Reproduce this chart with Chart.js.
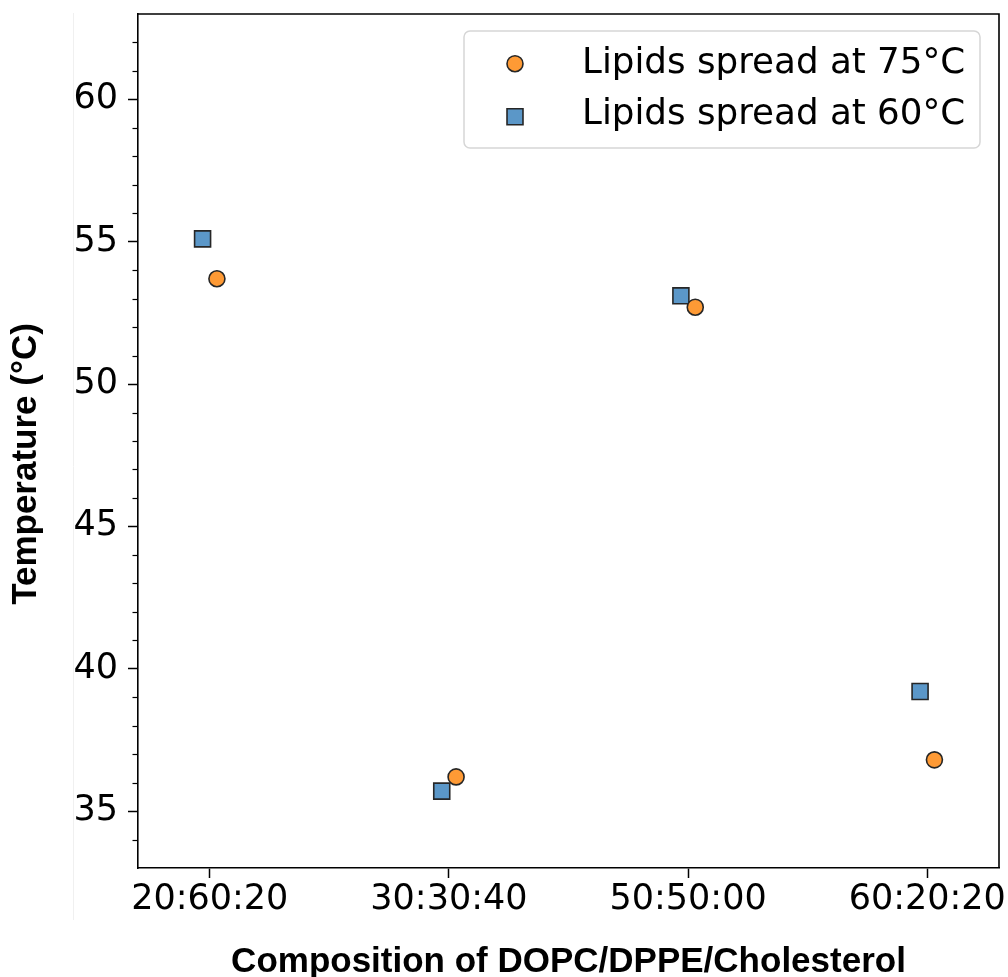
<!DOCTYPE html>
<html>
<head>
<meta charset="utf-8">
<script src="https://cdn.jsdelivr.net/npm/chart.js@4.4.0/dist/chart.umd.min.js"></script>
<style>
  html, body { margin: 0; padding: 0; background: #fff; }
</style>
</head>
<body>
<canvas id="scatterChart" width="1008" height="977"></canvas>
<script>
// data
const compositions = ['20:60:20', '30:30:40', '50:50:00', '60:20:20'];
const temps75 = [53.7, 36.2, 52.7, 36.8];
const temps60 = [55.1, 35.7, 53.1, 39.2];
const seriesLabels = ['Lipids spread at 75°C', 'Lipids spread at 60°C'];
const yMajorTicks = [35, 40, 45, 50, 55, 60];
const xShift = 0.03; // small horizontal dodge between the two series

const orange = '#fe9a35';
const blue = '#5b97c8';
const edge = '#262626';

const tickFont = { family: 'DejaVu Sans', size: 35 };
const titleFont = { family: 'Liberation Sans', size: 35, weight: 'bold' };

// the scales should not push the plot area around
function noPadding(s) {
    s.paddingLeft = 0;
    s.paddingRight = 0;
    s.paddingTop = 0;
    s.paddingBottom = 0;
}

// top/right spines, minor ticks, the y title and the framed legend
const extras = {
    id: 'extras',
    beforeDraw(chart) {
        const ctx = chart.ctx;
        ctx.save();
        ctx.strokeStyle = '#f0f0f0';
        ctx.lineWidth = 1;
        ctx.beginPath();
        ctx.moveTo(73.5, 13);
        ctx.lineTo(73.5, 920);
        ctx.stroke();
        ctx.restore();
    },
    afterDraw(chart) {
        const ctx = chart.ctx;
        const a = chart.chartArea;
        const y = chart.scales.y;
        ctx.save();
        ctx.strokeStyle = '#000';
        ctx.lineWidth = 1.6;
        ctx.beginPath();
        ctx.moveTo(a.left, a.top);
        ctx.lineTo(a.right, a.top);
        ctx.lineTo(a.right, a.bottom);
        ctx.stroke();

        // minor ticks every degree
        ctx.lineWidth = 1.2;
        for (let v = Math.ceil(y.min); v <= Math.floor(y.max); v++) {
            if (yMajorTicks.includes(v) || v === y.min || v === y.max) continue;
            const py = Math.round(y.getPixelForValue(v)) + 0.5;
            ctx.beginPath();
            ctx.moveTo(a.left - 5.5, py);
            ctx.lineTo(a.left, py);
            ctx.stroke();
        }

        // y axis title
        ctx.fillStyle = '#000';
        ctx.font = 'bold 35px "Liberation Sans"';
        ctx.textAlign = 'center';
        ctx.textBaseline = 'middle';
        ctx.translate(26, 464);
        ctx.rotate(-Math.PI / 2);
        ctx.fillText('Temperature (°C)', 0, 0);
        ctx.restore();

        // legend box
        ctx.save();
        const bx = 464, by = 31, bw = 516, bh = 117, r = 6;
        ctx.beginPath();
        ctx.moveTo(bx + r, by);
        ctx.arcTo(bx + bw, by, bx + bw, by + bh, r);
        ctx.arcTo(bx + bw, by + bh, bx, by + bh, r);
        ctx.arcTo(bx, by + bh, bx, by, r);
        ctx.arcTo(bx, by, bx + bw, by, r);
        ctx.closePath();
        ctx.fillStyle = 'rgba(255,255,255,0.8)';
        ctx.fill();
        ctx.strokeStyle = '#d6d6d6';
        ctx.lineWidth = 1.5;
        ctx.stroke();

        const rows = [63.7, 116.7];
        const baselines = [72.7, 124];
        chart.data.datasets.forEach((ds, i) => {
            ctx.fillStyle = ds.backgroundColor;
            ctx.strokeStyle = ds.borderColor;
            ctx.lineWidth = ds.borderWidth;
            Chart.helpers.drawPoint(ctx, {
                pointStyle: ds.pointStyle,
                radius: ds.pointRadius,
                rotation: 0,
                borderWidth: ds.borderWidth
            }, 515, rows[i]);
            ctx.fillStyle = '#000';
            ctx.font = '35.7px "DejaVu Sans"';
            ctx.textAlign = 'left';
            ctx.textBaseline = 'alphabetic';
            ctx.fillText(ds.label, 582, baselines[i]);
        });
        ctx.restore();
    }
};

const ctx = document.getElementById('scatterChart').getContext('2d');
const scatterChart = new Chart(ctx, {
    type: 'scatter',
    data: {
        datasets: [{
            label: seriesLabels[0],
            data: temps75.map((t, i) => ({ x: i + xShift, y: t })),
            pointStyle: 'circle',
            pointRadius: 8,
            pointHoverRadius: 8,
            backgroundColor: orange,
            borderColor: edge,
            borderWidth: 1.6
        }, {
            label: seriesLabels[1],
            data: temps60.map((t, i) => ({ x: i - xShift, y: t })),
            pointStyle: 'rect',
            pointRadius: 11.3,
            pointHoverRadius: 11.3,
            backgroundColor: blue,
            borderColor: edge,
            borderWidth: 1.6
        }]
    },
    options: {
        responsive: false,
        animation: false,
        devicePixelRatio: 1,
        layout: {
            autoPadding: false,
            padding: { top: 14, right: 9, left: 0, bottom: 0 }
        },
        plugins: {
            legend: { display: false },
            tooltip: { enabled: false }
        },
        scales: {
            x: {
                type: 'linear',
                min: -0.3,
                max: 3.3,
                afterBuildTicks: (s) => {
                    s.ticks = compositions.map((_, i) => ({ value: i }));
                },
                afterFit: (s) => {
                    s.height = 109;
                    noPadding(s);
                },
                ticks: {
                    callback: (v) => compositions[v],
                    font: tickFont,
                    color: '#000',
                    padding: 1,
                    maxRotation: 0,
                    autoSkip: false
                },
                grid: {
                    drawOnChartArea: false,
                    tickLength: 10,
                    tickColor: '#000',
                    tickWidth: 1.5
                },
                border: { color: '#000', width: 1.6 },
                title: {
                    display: true,
                    text: 'Composition of DOPC/DPPE/Cholesterol',
                    font: Object.assign({ lineHeight: 0.86 }, titleFont),
                    color: '#000',
                    padding: { top: 0, bottom: 0 }
                }
            },
            y: {
                min: 33,
                max: 63,
                afterBuildTicks: (s) => {
                    s.ticks = yMajorTicks.map(v => ({ value: v }));
                },
                afterFit: (s) => {
                    s.width = 138;
                    noPadding(s);
                },
                ticks: {
                    font: tickFont,
                    color: '#000',
                    padding: 10
                },
                grid: {
                    drawOnChartArea: false,
                    tickLength: 10,
                    tickColor: '#000',
                    tickWidth: 1.5
                },
                border: { color: '#000', width: 1.6 }
            }
        }
    },
    plugins: [extras]
});
</script>
</body>
</html>
